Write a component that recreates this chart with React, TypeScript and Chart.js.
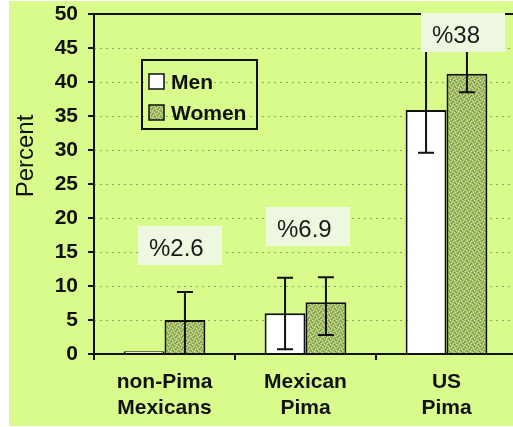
import React, { useEffect, useRef } from "react";
import { Chart, registerables } from "chart.js";

Chart.register(...registerables);

// ---- data ----
const categories = [["non-Pima", "Mexicans"], ["Mexican", "Pima"], ["US", "Pima"]];
const seriesNames = ["Men", "Women"];
const menValues = [0.4, 6.0, 35.9];
const womenValues = [5.0, 7.6, 41.2];
const menErrLow: (number | null)[] = [null, 0.7, 29.6];
const menErrHigh: (number | null)[] = [null, 11.2, 50];
const womenErrLow: (number | null)[] = [0, 2.8, 38.5];
const womenErrHigh: (number | null)[] = [9.1, 11.3, 46];
const annotationLabels = ["%2.6", "%6.9", "%38"];
const annotationLevels = [15.96, 18.75, 47.28];
const yMin = 0;
const yMax = 50;
const yStep = 5;
const yTitle = "Percent";

// ---- styles ----
const BG = "#d8fb8c";
const BOX_BG = "#eef8e0";
const FONT = "'Liberation Sans', Arial, sans-serif";
const annotationDx = [-26.5, -39.5, -25.5];
const BOX_W = 84;
const BOX_H = 39;

function makePattern(ctx: CanvasRenderingContext2D) {
  const c = document.createElement("canvas");
  c.width = 6;
  c.height = 6;
  const p = c.getContext("2d")!;
  p.fillStyle = "rgb(164,190,104)";
  p.fillRect(0, 0, 6, 6);
  const light = [[0, 0], [3, 1], [1, 3], [4, 4], [2, 5], [5, 2]];
  const dark = [[1, 1], [4, 0], [0, 4], [3, 3], [5, 5], [2, 2]];
  p.fillStyle = "rgb(206,232,150)";
  light.forEach(([x, y]) => p.fillRect(x, y, 1, 1));
  p.fillStyle = "rgb(120,140,76)";
  dark.forEach(([x, y]) => p.fillRect(x, y, 1, 1));
  return ctx.createPattern(c, "repeat")!;
}

export default function App() {
  const ref = useRef<HTMLCanvasElement>(null);

  useEffect(() => {
    const canvas = ref.current!;
    const ctx0 = canvas.getContext("2d")!;
    const womenFill = makePattern(ctx0);
    const errLows = [menErrLow, womenErrLow];
    const errHighs = [menErrHigh, womenErrHigh];

    const gridPlugin = {
      id: "customGrid",
      beforeDatasetsDraw(chart: any) {
        const { ctx, chartArea } = chart;
        const ys = chart.scales.y;
        ctx.save();
        ctx.strokeStyle = "rgba(80,95,70,0.55)";
        ctx.lineWidth = 1;
        ctx.setLineDash([2, 4]);
        for (let v = yMin + yStep; v < yMax; v += yStep) {
          const y = Math.round(ys.getPixelForValue(v)) + 0.5;
          ctx.beginPath();
          ctx.moveTo(chartArea.left, y);
          ctx.lineTo(chartArea.right, y);
          ctx.stroke();
        }
        ctx.restore();
      },
    };

    const errorPlugin = {
      id: "errorBars",
      afterDatasetsDraw(chart: any) {
        const { ctx, chartArea } = chart;
        const ys = chart.scales.y;
        ctx.save();
        ctx.strokeStyle = "#111";
        ctx.lineWidth = 2;
        chart.data.datasets.forEach((_: any, i: number) => {
          const meta = chart.getDatasetMeta(i);
          meta.data.forEach((el: any, j: number) => {
            const lo = errLows[i][j];
            const hi = errHighs[i][j];
            if (lo == null || hi == null) return;
            const x = el.x;
            const y1 = ys.getPixelForValue(lo);
            const y2 = ys.getPixelForValue(hi);
            ctx.beginPath();
            ctx.moveTo(x, y1);
            ctx.lineTo(x, y2);
            ctx.moveTo(x - 8, y1);
            ctx.lineTo(x + 8, y1);
            ctx.moveTo(x - 8, y2);
            ctx.lineTo(x + 8, y2);
            ctx.stroke();
          });
        });
        // solid top border at the maximum value
        const yt = ys.getPixelForValue(yMax);
        ctx.beginPath();
        ctx.moveTo(chartArea.left, yt);
        ctx.lineTo(chartArea.right, yt);
        ctx.stroke();
        ctx.restore();
      },
    };

    const overlayPlugin = {
      id: "overlay",
      afterDraw(chart: any) {
        const { ctx, chartArea } = chart;
        const xs = chart.scales.x;
        const ys = chart.scales.y;
        ctx.save();
        // annotation boxes
        annotationLabels.forEach((lab, i) => {
          const cx = xs.getPixelForValue(i);
          const cy = ys.getPixelForValue(annotationLevels[i]);
          const left = cx + annotationDx[i];
          const top = cy - BOX_H / 2;
          ctx.fillStyle = BOX_BG;
          ctx.fillRect(left, top, BOX_W, BOX_H);
          ctx.fillStyle = "#1a1a1a";
          ctx.font = "24px 'Liberation Sans', Arial, sans-serif";
          ctx.textAlign = "left";
          ctx.textBaseline = "alphabetic";
          ctx.fillText(lab, left + 11, top + 30);
        });
        // legend
        const lx = chartArea.left + 48;
        const ly = chartArea.top + 46;
        ctx.strokeStyle = "#111";
        ctx.lineWidth = 2;
        ctx.strokeRect(lx, ly, 115, 69);
        const fills = ["#ffffff", womenFill];
        seriesNames.forEach((name, i) => {
          const sy = ly + 14 + i * 31;
          ctx.fillStyle = fills[i] as any;
          ctx.fillRect(lx + 7, sy, 15, 15);
          ctx.lineWidth = 1.5;
          ctx.strokeStyle = "#111";
          ctx.strokeRect(lx + 7, sy, 15, 15);
          ctx.fillStyle = "#111";
          ctx.font = `bold 21px ${FONT}`;
          ctx.textAlign = "left";
          ctx.textBaseline = "alphabetic";
          ctx.fillText(name, lx + 29, sy + 15);
        });
        // y title
        ctx.translate(24, chartArea.top + 142);
        ctx.rotate(-Math.PI / 2);
        ctx.fillStyle = "#111";
        ctx.font = `24px ${FONT}`;
        ctx.textAlign = "center";
        ctx.textBaseline = "alphabetic";
        ctx.fillText(yTitle, 0, 0);
        ctx.restore();
      },
    };

    const chart = new Chart(canvas, {
      type: "bar",
      data: {
        labels: categories as any,
        datasets: [
          {
            label: seriesNames[0],
            data: menValues,
            backgroundColor: "#ffffff",
            borderColor: "#111",
            borderWidth: 2,
            borderSkipped: "bottom",
          },
          {
            label: seriesNames[1],
            data: womenValues,
            backgroundColor: womenFill as any,
            borderColor: "#111",
            borderWidth: 2,
            borderSkipped: "bottom",
          },
        ],
      },
      options: {
        animation: false,
        responsive: false,
        devicePixelRatio: 1,
        layout: { padding: { top: 13, left: 0, right: 0, bottom: 0 } },
        plugins: {
          legend: { display: false },
          tooltip: { enabled: false },
          title: { display: false },
        },
        datasets: { bar: { categoryPercentage: 0.58, barPercentage: 1 } } as any,
        scales: {
          x: {
            offset: true,
            grid: {
              offset: true,
              drawOnChartArea: false,
              drawTicks: true,
              tickLength: 6,
              tickColor: "#111",
              lineWidth: 2,
            },
            border: { display: true, color: "#111", width: 2 },
            ticks: {
              color: "#111",
              font: { family: FONT, size: 21, weight: "bold", lineHeight: 1.2 },
              padding: 10,
              maxRotation: 0,
              autoSkip: false,
            },
            afterFit(scale: any) {
              scale.height = 72;
              scale.paddingLeft = 0;
              scale.paddingRight = 0;
            },
          },
          y: {
            min: yMin,
            max: yMax,
            grid: {
              drawOnChartArea: false,
              drawTicks: true,
              tickLength: 6,
              tickColor: "#111",
              lineWidth: 2,
            },
            border: { display: true, color: "#111", width: 2 },
            ticks: {
              stepSize: yStep,
              color: "#111",
              font: { family: FONT, size: 21, weight: "bold" },
              padding: 10,
            },
            afterFit(scale: any) {
              scale.width = 85;
              scale.paddingTop = 0;
              scale.paddingBottom = 0;
            },
          },
        },
      },
      plugins: [gridPlugin, errorPlugin, overlayPlugin],
    });
    return () => chart.destroy();
  }, []);

  return (
    <div
      style={{
        position: "fixed",
        left: 0,
        top: 0,
        width: 513,
        height: 427,
        overflow: "hidden",
        background: "#ffffff",
      }}
    >
      <canvas
        ref={ref}
        width={508}
        height={425}
        style={{ position: "absolute", left: 9, top: 1, width: 508, height: 425, background: BG }}
      />
    </div>
  );
}
